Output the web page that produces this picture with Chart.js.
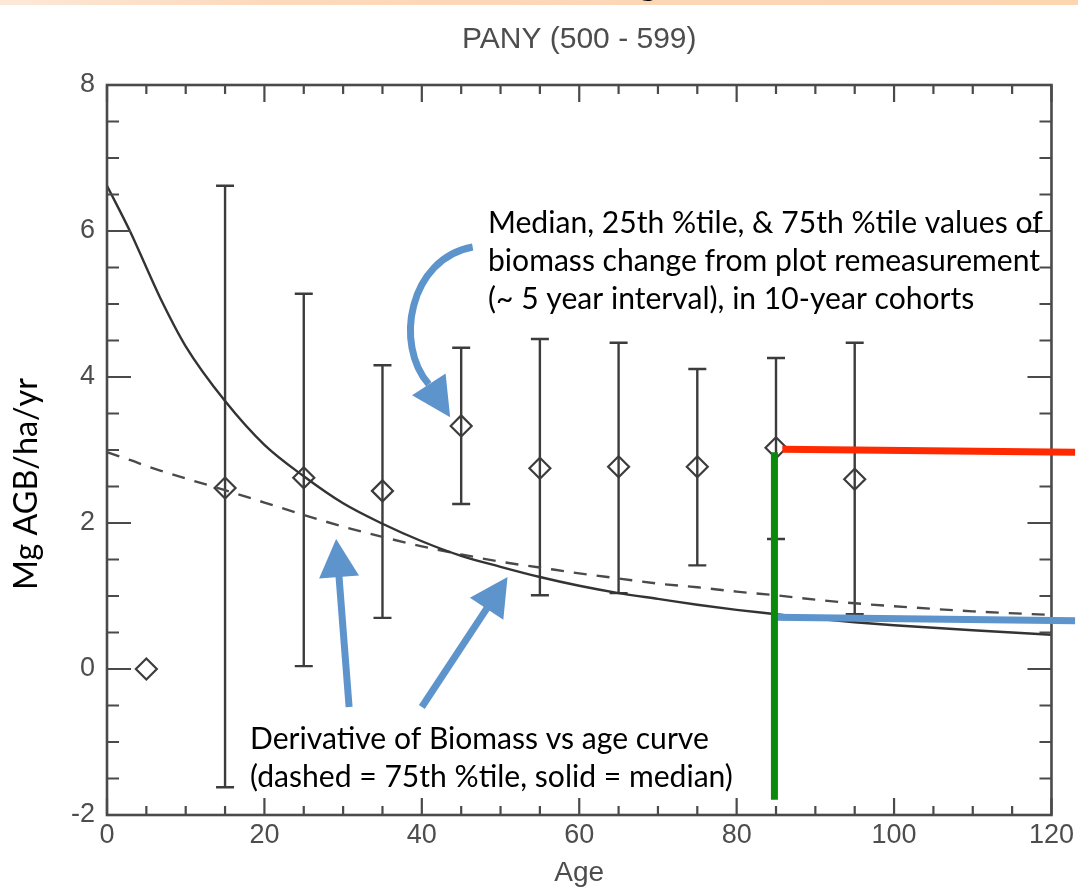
<!DOCTYPE html>
<html>
<head>
<meta charset="utf-8">
<title>PANY (500 - 599)</title>
<script src="https://cdn.jsdelivr.net/npm/chart.js@4.4.1/dist/chart.umd.min.js"></script>
<style>
  html, body { margin: 0; padding: 0; background: #fff; }
  canvas { display: block; }
</style>
</head>
<body>
<canvas id="agbChart" width="1078" height="890"></canvas>
<script>
// 10-year cohorts: median, 25th and 75th percentile of biomass change (Mg AGB/ha/yr)
const cohortAges = [5, 15, 25, 35, 45, 55, 65, 75, 85, 95];
const cohortMedian = [0, 2.48, 2.62, 2.44, 3.33, 2.75, 2.77, 2.77, 3.03, 2.60];
const cohortP25 = [null, -1.62, 0.04, 0.70, 2.26, 1.01, 1.04, 1.42, 1.78, 0.75];
const cohortP75 = [null, 6.62, 5.14, 4.16, 4.40, 4.52, 4.47, 4.11, 4.26, 4.47];

// derivative of the biomass-vs-age curves
const curveAges = [0, 3, 5, 7, 10, 15, 20, 25, 30, 35, 40, 45, 50, 55, 60, 65, 70, 75, 80, 85, 90, 95, 100, 110, 120];
const medianCurve = [6.62, 5.98, 5.50, 5.03, 4.42, 3.67, 3.07, 2.64, 2.27, 1.99, 1.75, 1.55, 1.40, 1.26, 1.14, 1.04, 0.96, 0.88, 0.81, 0.75, 0.69, 0.64, 0.60, 0.53, 0.47];
const p75Curve = [2.97, 2.86, 2.78, 2.71, 2.61, 2.45, 2.28, 2.11, 1.95, 1.81, 1.68, 1.57, 1.47, 1.39, 1.31, 1.24, 1.17, 1.12, 1.06, 1.01, 0.95, 0.90, 0.86, 0.79, 0.74];

const ageTicks = [0, 20, 40, 60, 80, 100, 120];
const rateTicks = [-2, 0, 2, 4, 6, 8];

// slide call-outs, in age / rate units
const redLine = [[85.8, 3.01], [123, 2.97]];
const greenLine = [[84.8, 2.97], [84.8, -1.79]];
const blueLine = [[84.8, 0.71], [123, 0.66]];
const arrowDashed = [[30.76, -0.52], [29.11, 1.78]];
const arrowSolid = [[40.0, -0.52], [50.89, 1.26]];
const arrowCohort = [[46.46, 5.78], [38.35, 5.62], [36.46, 4.44], [40.89, 3.90], [43.6, 3.45]];

const cohortNote = [
  'Median, 25th %tile, & 75th %tile values of',
  'biomass change from plot remeasurement',
  '(~ 5 year interval), in 10-year cohorts'
];
const curveNote = [
  'Derivative of Biomass vs age curve',
  '(dashed = 75th %tile, solid = median)'
];

const plotFont = '"Liberation Sans", Arial, sans-serif';
const noteFont = 'Lato, "Open Sans", sans-serif';
const axisGrey = '#4a4a4a';
const labelGrey = '#4d4d4d';
const calloutBlue = '#5E94CC';

Chart.defaults.font.family = plotFont;

function fitSize(ctx, text, width, family) {
  ctx.font = '100px ' + family;
  return 100 * width / ctx.measureText(text).width;
}

function arrowHead(ctx, base, tip, halfW) {
  const dx = tip[0] - base[0], dy = tip[1] - base[1];
  const len = Math.hypot(dx, dy);
  const nx = -dy / len, ny = dx / len;
  ctx.beginPath();
  ctx.moveTo(tip[0], tip[1]);
  ctx.lineTo(base[0] + nx * halfW, base[1] + ny * halfW);
  ctx.lineTo(base[0] - nx * halfW, base[1] - ny * halfW);
  ctx.closePath();
  ctx.fill();
}

function straightArrow(ctx, tail, tip) {
  const dx = tip[0] - tail[0], dy = tip[1] - tail[1];
  const len = Math.hypot(dx, dy);
  const headLen = 38;
  const base = [tip[0] - dx / len * headLen, tip[1] - dy / len * headLen];
  ctx.lineWidth = 7;
  ctx.beginPath();
  ctx.moveTo(tail[0], tail[1]);
  ctx.lineTo(base[0] + dx / len, base[1] + dy / len);
  ctx.stroke();
  arrowHead(ctx, base, tip, 20);
}

const plotFrame = {
  id: 'plotFrame',
  beforeDraw(chart) {
    const ctx = chart.ctx;
    ctx.save();
    ctx.fillStyle = '#fff';
    ctx.fillRect(0, 0, chart.width, chart.height);
    // strip of the slide heading above the figure
    const band = ctx.createLinearGradient(0, 0, chart.width, 0);
    band.addColorStop(0, '#fde8d8');
    band.addColorStop(0.25, '#fcd9bb');
    band.addColorStop(1, '#fcd5b1');
    ctx.fillStyle = band;
    ctx.fillRect(0, 0, chart.width, 5);
    ctx.fillStyle = '#000';
    ctx.font = '40px ' + noteFont;
    ctx.textAlign = 'center';
    ctx.fillText('g', 648, -6);
    ctx.restore();
    // the scanned plot itself is soft
    ctx.filter = 'blur(0.7px)';
  },
  beforeDatasetsDraw(chart) {
    const ctx = chart.ctx;
    const {x, y} = chart.scales;
    ctx.save();
    ctx.strokeStyle = '#3c3c3c';
    ctx.lineWidth = 2.4;
    cohortAges.forEach((age, i) => {
      if (cohortP25[i] === null) return;
      const px = x.getPixelForValue(age);
      const lo = y.getPixelForValue(cohortP25[i]);
      const hi = y.getPixelForValue(cohortP75[i]);
      ctx.beginPath();
      ctx.moveTo(px, lo); ctx.lineTo(px, hi);
      ctx.moveTo(px - 9, lo); ctx.lineTo(px + 9, lo);
      ctx.moveTo(px - 9, hi); ctx.lineTo(px + 9, hi);
      ctx.stroke();
    });
    ctx.restore();
  },
  afterDatasetsDraw(chart) {
    const ctx = chart.ctx;
    const {x, y} = chart.scales;
    const {left, right, top, bottom} = chart.chartArea;
    ctx.save();
    ctx.strokeStyle = axisGrey;
    ctx.lineWidth = 2.6;
    ctx.strokeRect(left, top, right - left, bottom - top);
    ctx.lineWidth = 2.2;
    ctx.beginPath();
    // inward ticks on all four sides
    for (let k = 0; k <= 24; k++) {
      const px = x.getPixelForValue(k * 5);
      const len = k % 4 === 0 ? 17 : 9;
      ctx.moveTo(px, bottom); ctx.lineTo(px, bottom - len);
      ctx.moveTo(px, top); ctx.lineTo(px, top + len);
    }
    for (let k = 0; k <= 20; k++) {
      const py = y.getPixelForValue(-2 + k * 0.5);
      const len = k % 4 === 0 ? 24 : 12;
      ctx.moveTo(left, py); ctx.lineTo(left + len, py);
      ctx.moveTo(right, py); ctx.lineTo(right - len, py);
    }
    ctx.stroke();
    ctx.restore();
  },
  afterDraw(chart) {
    const ctx = chart.ctx;
    ctx.filter = 'none';
    const {x, y} = chart.scales;
    const P = p => [x.getPixelForValue(p[0]), y.getPixelForValue(p[1])];
    ctx.save();

    // marker lines at the 85-year cohort
    ctx.lineCap = 'butt';
    ctx.lineWidth = 7;
    [[redLine, '#FF2A00'], [blueLine, calloutBlue], [greenLine, '#0A8A0A']].forEach(([seg, col]) => {
      const a = P(seg[0]), b = P(seg[1]);
      ctx.strokeStyle = col;
      ctx.beginPath();
      ctx.moveTo(a[0], a[1]); ctx.lineTo(b[0], b[1]);
      ctx.stroke();
    });

    // arrows
    ctx.strokeStyle = calloutBlue;
    ctx.fillStyle = calloutBlue;
    straightArrow(ctx, P(arrowDashed[0]), P(arrowDashed[1]));
    straightArrow(ctx, P(arrowSolid[0]), P(arrowSolid[1]));
    const c = arrowCohort.map(P);
    ctx.lineWidth = 7;
    ctx.beginPath();
    ctx.moveTo(c[0][0], c[0][1]);
    ctx.bezierCurveTo(c[1][0], c[1][1], c[2][0], c[2][1], c[3][0], c[3][1]);
    ctx.stroke();
    arrowHead(ctx, c[3], c[4], 20);

    // notes
    const size = fitSize(ctx, cohortNote[1], 553, noteFont);
    ctx.fillStyle = '#000';
    ctx.font = size.toFixed(1) + 'px ' + noteFont;
    ctx.textAlign = 'left';
    ctx.textBaseline = 'alphabetic';
    cohortNote.forEach((line, i) => ctx.fillText(line, 488, 233 + i * 38));
    curveNote.forEach((line, i) => ctx.fillText(line, 250, 749 + i * 38));

    // y axis label
    const ySize = fitSize(ctx, 'Mg AGB/ha/yr', 212, noteFont);
    ctx.font = ySize.toFixed(1) + 'px ' + noteFont;
    ctx.translate(27, 484);
    ctx.rotate(-Math.PI / 2);
    ctx.textAlign = 'center';
    ctx.textBaseline = 'middle';
    ctx.fillText('Mg AGB/ha/yr', 0, 0);
    ctx.restore();
  }
};

const ctx = document.getElementById('agbChart').getContext('2d');
new Chart(ctx, {
  type: 'scatter',
  data: {
    datasets: [
      {
        label: 'Median curve',
        type: 'line',
        data: curveAges.map((a, i) => ({x: a, y: medianCurve[i]})),
        borderColor: '#333',
        borderWidth: 2.4,
        pointRadius: 0,
        showLine: true,
        cubicInterpolationMode: 'monotone',
        fill: false,
        order: 0
      },
      {
        label: '75th percentile curve',
        type: 'line',
        data: curveAges.map((a, i) => ({x: a, y: p75Curve[i]})),
        borderColor: '#4a4a4a',
        borderWidth: 2.4,
        borderDash: [13, 10],
        pointRadius: 0,
        showLine: true,
        cubicInterpolationMode: 'monotone',
        fill: false,
        order: 0
      },
      {
        label: 'Cohort median',
        data: cohortAges.map((a, i) => ({x: a, y: cohortMedian[i]})),
        pointStyle: 'rectRot',
        pointRadius: 10.5,
        pointBackgroundColor: 'rgba(0,0,0,0)',
        pointBorderColor: '#3c3c3c',
        pointBorderWidth: 2.2,
        order: 1
      }
    ]
  },
  options: {
    responsive: false,
    animation: false,
    devicePixelRatio: 1,
    layout: {padding: {left: 0, right: 23, top: 0, bottom: 0}},
    plugins: {
      legend: {display: false},
      tooltip: {enabled: false},
      title: {
        display: true,
        fullSize: false,   // centre over the plot frame, not the canvas
        text: 'PANY (500 - 599)',
        color: labelGrey,
        font: {family: plotFont, size: 30, weight: 'normal'},
        padding: {top: 22, bottom: 27}
      }
    },
    scales: {
      x: {
        type: 'linear',
        min: 0,
        max: 120,
        afterBuildTicks: s => { s.ticks = ageTicks.map(v => ({value: v})); },
        afterFit: s => { s.height = 75; },
        grid: {display: false, drawTicks: false},
        border: {display: false},
        ticks: {color: labelGrey, font: {size: 27}, padding: 4, maxRotation: 0, autoSkip: false},
        title: {display: true, text: 'Age', color: labelGrey, font: {size: 28}, padding: {top: 0, bottom: 0}}
      },
      y: {
        min: -2,
        max: 8,
        afterBuildTicks: s => { s.ticks = rateTicks.map(v => ({value: v})); },
        afterFit: s => { s.width = 107; },
        grid: {display: false, drawTicks: false},
        border: {display: false},
        ticks: {color: labelGrey, font: {size: 27}, padding: 12, autoSkip: false}
      }
    }
  },
  plugins: [plotFrame]
});
</script>
</body>
</html>
